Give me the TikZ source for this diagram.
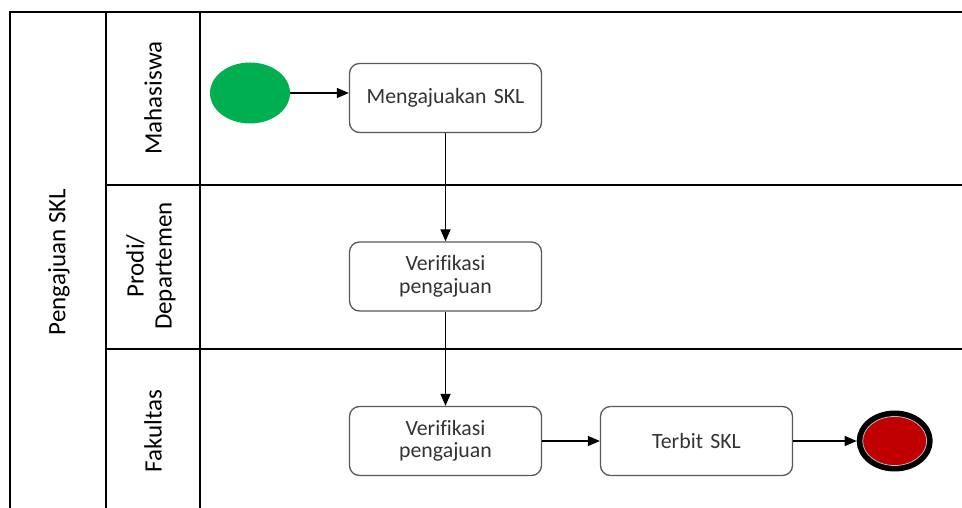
\documentclass[tikz,border=0pt]{standalone}
\usepackage{fontspec}
\setmainfont{Carlito}[Ligatures=NoCommon]
\usetikzlibrary{shapes.geometric, arrows.meta}
\definecolor{startgreen}{HTML}{00B050}
\definecolor{endred}{HTML}{C00000}
\definecolor{boxline}{HTML}{595959}
\definecolor{boxtext}{HTML}{333333}
\tikzstyle{task} = [rectangle, rounded corners=10pt, minimum width=192pt, minimum height=69pt, text width=180pt, align=center, draw=boxline, line width=1.3pt, fill=white, text=boxtext, font=\fontsize{21.8}{22.5}\selectfont]
\tikzstyle{startev} = [ellipse, minimum width=80pt, minimum height=61pt, inner sep=0pt, fill=startgreen]
\tikzstyle{endev} = [ellipse, minimum width=70pt, minimum height=55pt, inner sep=0pt, draw=black, line width=6pt, fill=endred]
\tikzstyle{lane} = [line width=1.9pt]
\tikzstyle{lanelabel} = [rotate=90, align=center, font=\fontsize{25}{28}\selectfont]
\tikzstyle{flow} = [line width=1.3pt, -{Triangle[length=12pt,width=10pt]}]

\begin{document}
\begin{tikzpicture}[x=1pt, y=-1pt, node distance=178.5pt]
		\useasboundingbox (0,0) rectangle (962,508);
		% pool and lanes
		\draw [lane] (962,12) -- (10,12) -- (10,508);
		\draw [lane] (106,12) -- (106,508);
		\draw [lane] (200,12) -- (200,508);
		\draw [lane] (106,185) -- (962,185);
		\draw [lane] (106,349) -- (962,349);
		\node (pool) [lanelabel] at (59,262) {Pengajuan SKL};
		\node (mhs) [lanelabel] at (153,98) {Mahasiswa};
		\node (prodi) [lanelabel] at (151,266) {Prodi/\\Departemen};
		\node (fak) [lanelabel] at (153,431) {Fakultas};

		% process
		\node (start) [startev] at (250,93) {};
		\node (ajukan) [task] at (445.5,98) {Mengajuakan SKL};
		\node (verprodi) [task, below of=ajukan] {Verifikasi\\pengajuan};
		\node (verfak) [task, below of=verprodi, yshift=14pt] {Verifikasi\\pengajuan};
		\node (terbit) [task, right of=verfak, xshift=72.5pt] {Terbit SKL};
		\node (end) [endev, right of=terbit, xshift=19.7pt] {};
		\draw [gray!55, line width=0.8pt] (end.center) ellipse [x radius=32pt, y radius=24.5pt];

		\draw [flow] (start) -- (start -| ajukan.west);
		\draw [flow] (ajukan) -- (verprodi);
		\draw [flow] (verprodi) -- (verfak);
		\draw [flow] (verfak) -- (terbit);
		\draw [flow] (terbit) -- (end);
	  \end{tikzpicture}
\end{document}
